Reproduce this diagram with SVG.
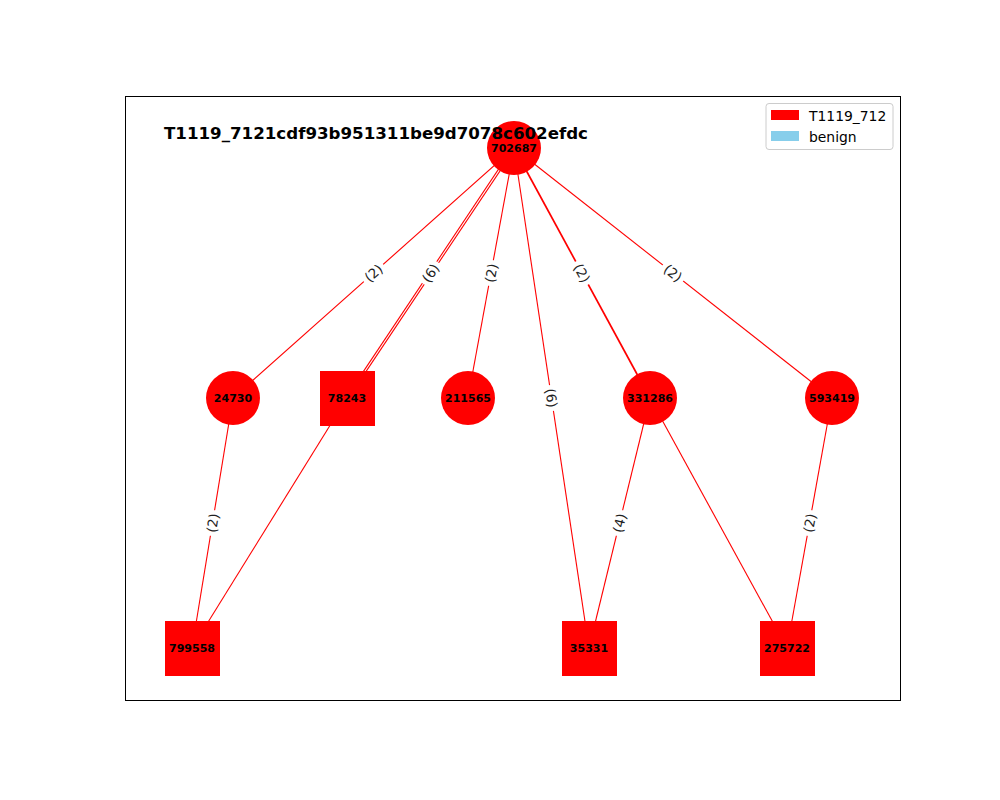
<svg xmlns="http://www.w3.org/2000/svg" width="1000" height="800" viewBox="0 0 1000 800">
<style>
.edge{stroke:#ff0000;stroke-width:1.1;fill:none}
.node{fill:#ff0000}
.nl{font-family:"DejaVu Sans",sans-serif;font-weight:bold;font-size:11px;fill:#000;text-anchor:middle}
.el{font-family:"DejaVu Sans",sans-serif;font-size:13.5px;fill:#222;text-anchor:middle}
.lb{fill:#fff}
.lg{font-family:"DejaVu Sans",sans-serif;font-size:13.9px;fill:#000}
</style>
<rect x="0" y="0" width="1000" height="800" fill="#fff"/>
<rect x="125.5" y="96.5" width="775" height="604" fill="none" stroke="#000" stroke-width="1"/>
<g id="edges">
<line class="edge" x1="514" y1="148" x2="233" y2="398"/>
<line class="edge" x1="514.9" y1="148.6" x2="347.9" y2="398.6"/>
<line class="edge" x1="513.1" y1="147.4" x2="346.1" y2="397.4"/>
<line class="edge" x1="514" y1="148" x2="468" y2="398"/>
<line class="edge" x1="514" y1="148" x2="589" y2="648"/>
<line class="edge" x1="514" y1="148" x2="650" y2="398" style="stroke-width:1.7"/>
<line class="edge" x1="514" y1="148" x2="832" y2="398"/>
<line class="edge" x1="233" y1="398" x2="192" y2="648"/>
<line class="edge" x1="347" y1="398" x2="192" y2="648"/>
<line class="edge" x1="650" y1="398" x2="589" y2="648"/>
<line class="edge" x1="650" y1="398" x2="787" y2="648"/>
<line class="edge" x1="832" y1="398" x2="787" y2="648"/>
<g transform="translate(373.5,273) rotate(-41.65)"><rect class="lb" x="-13" y="-9.5" width="26" height="19"/><text class="el" y="5">(2)</text></g>
<g transform="translate(430.5,273) rotate(-56.26)"><rect class="lb" x="-13" y="-9.5" width="26" height="19"/><text class="el" y="5">(6)</text></g>
<g transform="translate(491,273) rotate(-79.6)"><rect class="lb" x="-13" y="-9.5" width="26" height="19"/><text class="el" y="5">(2)</text></g>
<g transform="translate(551.5,398) rotate(81.47)"><rect class="lb" x="-13" y="-9.5" width="26" height="19"/><text class="el" y="5">(6)</text></g>
<g transform="translate(582,273) rotate(61.45)"><rect class="lb" x="-13" y="-9.5" width="26" height="19"/><text class="el" y="5">(2)</text></g>
<g transform="translate(673,273) rotate(38.18)"><rect class="lb" x="-13" y="-9.5" width="26" height="19"/><text class="el" y="5">(2)</text></g>
<g transform="translate(212.5,523) rotate(-80.7)"><rect class="lb" x="-13" y="-9.5" width="26" height="19"/><text class="el" y="5">(2)</text></g>
<g transform="translate(619.5,523) rotate(-76.3)"><rect class="lb" x="-13" y="-9.5" width="26" height="19"/><text class="el" y="5">(4)</text></g>
<g transform="translate(809.5,523) rotate(-79.8)"><rect class="lb" x="-13" y="-9.5" width="26" height="19"/><text class="el" y="5">(2)</text></g>
</g>
<g id="n702687"><circle class="node" cx="514" cy="148" r="27"/></g>
<g id="n24730"><circle class="node" cx="233" cy="398" r="27"/><text class="nl" x="233" y="402">24730</text></g>
<g id="n78243"><rect class="node" x="320" y="371" width="55" height="55"/><text class="nl" x="347" y="402">78243</text></g>
<g id="n211565"><circle class="node" cx="468" cy="398" r="27"/><text class="nl" x="468" y="402">211565</text></g>
<g id="n331286"><circle class="node" cx="650" cy="398" r="27"/><text class="nl" x="650" y="402">331286</text></g>
<g id="n593419"><circle class="node" cx="832" cy="398" r="27"/><text class="nl" x="832" y="402">593419</text></g>
<g id="n799558"><rect class="node" x="165" y="621" width="55" height="55"/><text class="nl" x="192" y="652">799558</text></g>
<g id="n35331"><rect class="node" x="562" y="621" width="55" height="55"/><text class="nl" x="589" y="652">35331</text></g>
<g id="n275722"><rect class="node" x="760" y="621" width="55" height="55"/><text class="nl" x="787" y="652">275722</text></g>
<text x="164" y="139" font-family="DejaVu Sans, sans-serif" font-weight="bold" font-size="16" textLength="424" lengthAdjust="spacingAndGlyphs" fill="#000">T1119_7121cdf93b951311be9d7078c602efdc</text>
<text class="nl" x="514" y="152">702687</text>
<g id="legend">
<rect x="766" y="103.5" width="127" height="46" rx="3" fill="#fff" fill-opacity="0.8" stroke="#ccc" stroke-width="1"/>
<rect x="771" y="110" width="28" height="10" fill="#ff0000"/>
<rect x="771" y="131" width="28" height="10" fill="#87ceeb"/>
<text class="lg" x="809" y="120.5">T1119_712</text>
<text class="lg" x="809" y="141.5">benign</text>
</g>
</svg>
